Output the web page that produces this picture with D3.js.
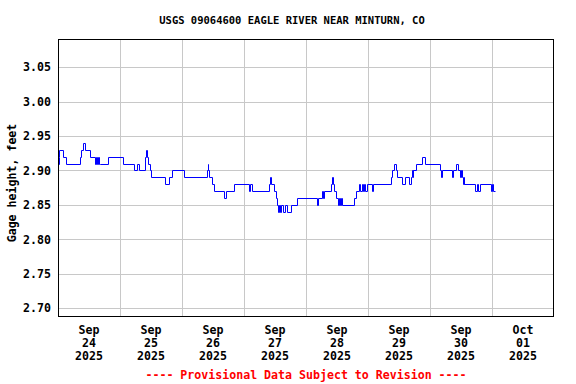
<!DOCTYPE html>
<html>
<head>
<title>USGS 09064600 Eagle River near Minturn</title>
<script src="https://d3js.org/d3.v7.min.js"></script>
<style>
  body {margin: 0; background: #fff;}
  text {font-family: "DejaVu Sans Mono", "Liberation Mono", monospace; font-weight: bold;}
</style>
</head>
<body>
<svg id="chart" width="576" height="384"></svg>
<script>
// gage height readings (step changes)
var times = [
  "09-24 00:00","09-24 00:15","09-24 00:30","09-24 01:45","09-24 03:15","09-24 08:30","09-24 09:00","09-24 09:45",
  "09-24 10:30","09-24 12:15","09-24 14:15","09-24 14:45","09-24 15:00","09-24 15:30","09-24 15:45","09-24 16:15",
  "09-24 19:30","09-25 01:15","09-25 05:30","09-25 06:45","09-25 07:15","09-25 09:45","09-25 10:00","09-25 10:30",
  "09-25 10:45","09-25 11:30","09-25 12:00","09-25 17:30","09-25 19:00","09-25 20:00","09-26 00:45","09-26 09:45",
  "09-26 10:00","09-26 10:15","09-26 10:30","09-26 11:30","09-26 12:30","09-26 16:15","09-26 17:00","09-26 20:15",
  "09-27 02:00","09-27 02:30","09-27 03:15","09-27 09:45","09-27 10:15","09-27 10:30","09-27 11:30","09-27 12:15",
  "09-27 12:45","09-27 13:00","09-27 13:30","09-27 14:00","09-27 14:30","09-27 15:00","09-27 15:45","09-27 16:30",
  "09-27 18:15","09-27 20:30","09-28 04:15","09-28 04:30","09-28 06:15","09-28 06:30","09-28 07:00","09-28 09:30",
  "09-28 10:00","09-28 10:30","09-28 10:45","09-28 11:30","09-28 12:15","09-28 12:45","09-28 13:00","09-28 13:30",
  "09-28 13:45","09-28 18:45","09-28 19:30","09-28 20:30","09-28 21:00","09-28 21:30","09-28 22:00","09-28 22:30",
  "09-28 23:00","09-28 23:30","09-29 01:30","09-29 01:45","09-29 08:45","09-29 09:15","09-29 10:15","09-29 10:45",
  "09-29 11:15","09-29 13:00","09-29 14:30","09-29 16:00","09-29 16:30","09-29 17:00","09-29 17:15","09-29 17:30",
  "09-29 18:45","09-29 20:45","09-29 22:00","09-30 03:45","09-30 04:15","09-30 04:30","09-30 08:30","09-30 08:45",
  "09-30 10:15","09-30 10:45","09-30 11:30","09-30 12:00","09-30 12:30","09-30 12:45","09-30 13:00","09-30 13:15",
  "09-30 17:30","09-30 18:00","09-30 18:45","09-30 19:15","09-30 23:45","10-01 00:00","10-01 00:15","10-01 01:00"
];
var heights = [
  2.91,2.92,2.93,2.92,2.91,2.92,2.93,2.94,
  2.93,2.92,2.91,2.92,2.91,2.92,2.91,2.91,
  2.92,2.91,2.90,2.91,2.90,2.92,2.93,2.92,
  2.91,2.90,2.89,2.88,2.89,2.90,2.89,2.90,
  2.91,2.90,2.89,2.88,2.87,2.86,2.87,2.88,
  2.87,2.88,2.87,2.88,2.89,2.88,2.87,2.86,
  2.85,2.84,2.85,2.84,2.85,2.84,2.85,2.84,
  2.85,2.86,2.85,2.86,2.87,2.86,2.87,2.88,
  2.89,2.88,2.87,2.86,2.85,2.86,2.85,2.86,
  2.85,2.86,2.87,2.88,2.87,2.88,2.87,2.88,
  2.87,2.88,2.87,2.88,2.89,2.90,2.91,2.90,
  2.89,2.88,2.89,2.88,2.89,2.90,2.89,2.90,
  2.91,2.92,2.91,2.90,2.89,2.90,2.89,2.90,
  2.91,2.90,2.89,2.90,2.89,2.88,2.89,2.88,
  2.87,2.88,2.87,2.88,2.87,2.88,2.87,2.87
];
var yTicks = [2.70, 2.75, 2.80, 2.85, 2.90, 2.95, 3.00, 3.05];
var dayLabels = ["2025-09-24","2025-09-25","2025-09-26","2025-09-27","2025-09-28","2025-09-29","2025-09-30","2025-10-01"];

var parse = d3.timeParse("%Y-%m-%d %H:%M");
var parseDay = d3.timeParse("%Y-%m-%d");
var data = times.map(function(t, i) { return {t: parse("2025-" + t), v: heights[i]}; });

var pLeft = 58, pRight = 554, pTop = 39, pBottom = 316;
var svg = d3.select("#chart");

var x = d3.scaleTime()
    .domain([parseDay("2025-09-24"), parseDay("2025-10-02")])
    .range([pLeft, pRight]);
var y = d3.scaleLinear().domain([2.6888, 3.0907]).range([pBottom, pTop]);

// grid
var grid = svg.append("g").attr("shape-rendering", "crispEdges").attr("stroke", "#c8c8c8");
grid.selectAll("line.h").data(yTicks).enter().append("line")
    .attr("x1", pLeft).attr("x2", pRight)
    .attr("y1", d => Math.round(y(d)) + 0.5).attr("y2", d => Math.round(y(d)) + 0.5);
grid.selectAll("line.v").data(d3.timeDay.range(x.domain()[0], x.domain()[1]).slice(1)).enter().append("line")
    .attr("y1", pTop).attr("y2", pBottom)
    .attr("x1", d => Math.round(x(d)) + 0.5).attr("x2", d => Math.round(x(d)) + 0.5);

// data line, snapped to the pixel grid so it stays a crisp 1px blue
var line = d3.line()
    .x(d => Math.round(x(d.t)) + 0.5)
    .y(d => Math.round(y(d.v)) + 0.5)
    .curve(d3.curveStepAfter);
svg.append("path").datum(data)
    .attr("d", line)
    .attr("fill", "none")
    .attr("stroke", "#0000ff")
    .attr("stroke-width", 1);

// frame
svg.append("rect")
    .attr("x", pLeft + 0.5).attr("y", pTop + 0.5)
    .attr("width", pRight - pLeft - 1).attr("height", pBottom - pTop)
    .attr("fill", "none").attr("stroke", "#000").attr("shape-rendering", "crispEdges");

// y axis
var yAxis = d3.axisLeft(y).tickValues(yTicks).tickFormat(d3.format(".2f")).tickSize(0).tickPadding(7);
var ya = svg.append("g").attr("transform", "translate(" + pLeft + ",0)").call(yAxis);
ya.select(".domain").remove();
ya.selectAll("text").attr("font-size", 11.6).attr("fill", "#000")
    .attr("font-family", "DejaVu Sans Mono").attr("font-weight", "bold");

svg.append("text")
    .attr("transform", "translate(16,183) rotate(-90)")
    .attr("text-anchor", "middle")
    .attr("font-size", 11.6)
    .text("Gage height, feet");

// x axis labels (centered on each day)
var xl = svg.append("g");
dayLabels.forEach(function(s) {
  var d = parseDay(s);
  var cx = x(d3.timeHour.offset(d, 12));
  var t = xl.append("text").attr("text-anchor", "middle").attr("font-size", 11.6);
  t.append("tspan").attr("x", cx).attr("y", 334).text(d3.timeFormat("%b")(d));
  t.append("tspan").attr("x", cx).attr("y", 347).text(d3.timeFormat("%d")(d));
  t.append("tspan").attr("x", cx).attr("y", 360).text(d3.timeFormat("%Y")(d));
});

// title
svg.append("text")
    .attr("x", 292).attr("y", 24)
    .attr("text-anchor", "middle")
    .attr("font-size", 10.5)
    .text("USGS 09064600 EAGLE RIVER NEAR MINTURN, CO");

svg.append("text")
    .attr("x", 306).attr("y", 379)
    .attr("text-anchor", "middle")
    .attr("font-size", 11.6)
    .attr("fill", "#ff0000")
    .text("---- Provisional Data Subject to Revision ----");
</script>
</body>
</html>
